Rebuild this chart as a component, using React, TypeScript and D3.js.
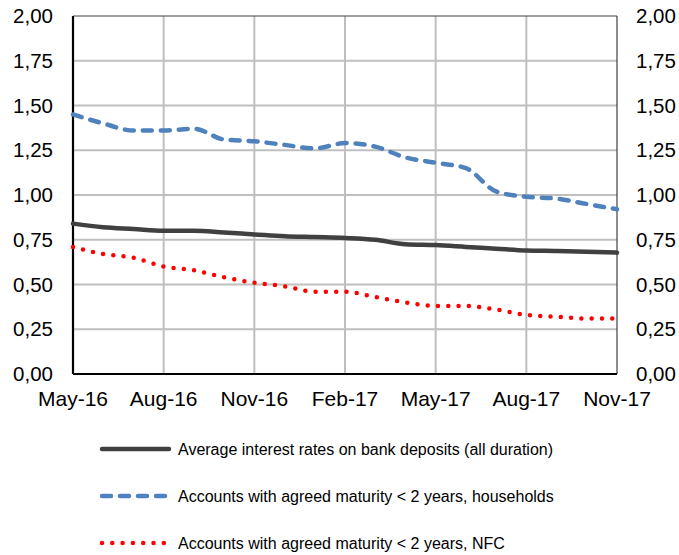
import React, { useRef, useEffect } from 'react';
import * as d3 from 'd3';

const months = [
  'May-16', 'Jun-16', 'Jul-16', 'Aug-16', 'Sep-16', 'Oct-16', 'Nov-16', 'Dec-16', 'Jan-17',
  'Feb-17', 'Mar-17', 'Apr-17', 'May-17', 'Jun-17', 'Jul-17', 'Aug-17', 'Sep-17', 'Oct-17', 'Nov-17'
];
const tickMonths = ['May-16', 'Aug-16', 'Nov-16', 'Feb-17', 'May-17', 'Aug-17', 'Nov-17'];
const yTicks = [0, 0.25, 0.5, 0.75, 1, 1.25, 1.5, 1.75, 2];

const averageAll = [0.84, 0.82, 0.81, 0.80, 0.80, 0.79, 0.78, 0.77, 0.765, 0.76, 0.75, 0.725, 0.72, 0.71, 0.70, 0.69, 0.687, 0.683, 0.678];
const households = [1.45, 1.40, 1.36, 1.36, 1.37, 1.31, 1.30, 1.28, 1.26, 1.29, 1.27, 1.21, 1.18, 1.15, 1.02, 0.99, 0.98, 0.95, 0.92];
const nfc = [0.71, 0.67, 0.65, 0.60, 0.58, 0.54, 0.51, 0.49, 0.46, 0.46, 0.43, 0.40, 0.38, 0.38, 0.36, 0.33, 0.32, 0.31, 0.31];

const seriesNames = [
  'Average interest rates on bank deposits (all duration)',
  'Accounts with agreed maturity < 2 years, households',
  'Accounts with agreed maturity < 2 years, NFC'
];

const W = 679;
const H = 555;
const font = '"Liberation Sans", Arial, sans-serif';

const App = () => {
  const svgRef = useRef<SVGSVGElement>(null);

  useEffect(() => {
    const svg = d3.select(svgRef.current);
    svg.selectAll('*').remove();

    const margin = { top: 16, right: 62, bottom: 181, left: 73 };
    const innerW = W - margin.left - margin.right;
    const innerH = H - margin.top - margin.bottom;

    const x = d3.scalePoint().domain(months).range([0, innerW]);
    const y = d3.scaleLinear().domain([0, 2]).range([innerH, 0]);

    const g = svg.append('g').attr('transform', `translate(${margin.left},${margin.top})`);

    // grid
    g.selectAll('.hgrid')
      .data(yTicks.slice(1, -1))
      .enter()
      .append('line')
      .attr('x1', 0).attr('x2', innerW)
      .attr('y1', d => y(d)).attr('y2', d => y(d))
      .style('stroke', '#BFBFBF').style('stroke-width', 2);

    g.selectAll('.vgrid')
      .data(tickMonths.slice(1, -1))
      .enter()
      .append('line')
      .attr('x1', d => x(d)!).attr('x2', d => x(d)!)
      .attr('y1', 0).attr('y2', innerH)
      .style('stroke', '#BFBFBF').style('stroke-width', 2);

    // frame
    g.append('line').attr('x1', 0).attr('x2', innerW).attr('y1', 0).attr('y2', 0)
      .style('stroke', '#404040').style('stroke-width', 1.2);
    g.append('line').attr('x1', innerW).attr('x2', innerW).attr('y1', 0).attr('y2', innerH)
      .style('stroke', '#404040').style('stroke-width', 1.2);
    g.append('line').attr('x1', 0).attr('x2', 0).attr('y1', 0).attr('y2', innerH)
      .style('stroke', '#000').style('stroke-width', 2.2);
    g.append('line').attr('x1', 0).attr('x2', innerW).attr('y1', innerH).attr('y2', innerH)
      .style('stroke', '#000').style('stroke-width', 2.2);

    const fmt = (d: number) => d3.format('.2f')(d).replace('.', ',');

    // y labels left and right
    g.selectAll('.yl')
      .data(yTicks)
      .enter()
      .append('text')
      .attr('x', -20)
      .attr('y', d => y(d))
      .attr('dy', '0.35em')
      .attr('text-anchor', 'end')
      .style('font-family', font).style('font-size', '20.5px').style('fill', '#000')
      .text(fmt);

    g.selectAll('.yr')
      .data(yTicks)
      .enter()
      .append('text')
      .attr('x', innerW + 19)
      .attr('y', d => y(d))
      .attr('dy', '0.35em')
      .attr('text-anchor', 'start')
      .style('font-family', font).style('font-size', '20.5px').style('fill', '#000')
      .text(fmt);

    // x labels
    g.selectAll('.xl')
      .data(tickMonths)
      .enter()
      .append('text')
      .attr('x', d => x(d)!)
      .attr('y', innerH + 32)
      .attr('text-anchor', 'middle')
      .style('font-family', font).style('font-size', '21px').style('fill', '#000')
      .text(d => d);

    const line = d3.line<number>()
      .x((d, i) => x(months[i])!)
      .y(d => y(d))
      .curve(d3.curveMonotoneX);

    const styles = [
      { data: averageAll, color: '#404040', width: 4.5, dash: null },
      { data: households, color: '#4F81BD', width: 4.5, dash: '9,9' },
      { data: nfc, color: '#FF0000', width: 4.5, dash: '0,10.3' }
    ];

    styles.forEach(s => {
      g.append('path')
        .datum(s.data)
        .attr('d', line)
        .style('fill', 'none')
        .style('stroke', s.color)
        .style('stroke-width', s.width)
        .style('stroke-linecap', 'round')
        .style('stroke-linejoin', 'round')
        .style('stroke-dasharray', s.dash);
    });

    // legend
    const legendY = [449, 496, 543];
    styles.forEach((s, i) => {
      svg.append('line')
        .attr('x1', 102).attr('x2', 169)
        .attr('y1', legendY[i]).attr('y2', legendY[i])
        .style('stroke', s.color)
        .style('stroke-width', s.width)
        .style('stroke-linecap', 'round')
        .style('stroke-dasharray', s.dash);
      svg.append('text')
        .attr('x', 178)
        .attr('y', legendY[i])
        .attr('dy', '0.35em')
        .style('font-family', font).style('font-size', '16px').style('fill', '#000')
        .text(seriesNames[i]);
    });
  }, []);

  return (
    <svg
      ref={svgRef}
      width={W}
      height={H}
      style={{ position: 'absolute', left: 0, top: 0, background: 'white' }}
    />
  );
};

export default App;
